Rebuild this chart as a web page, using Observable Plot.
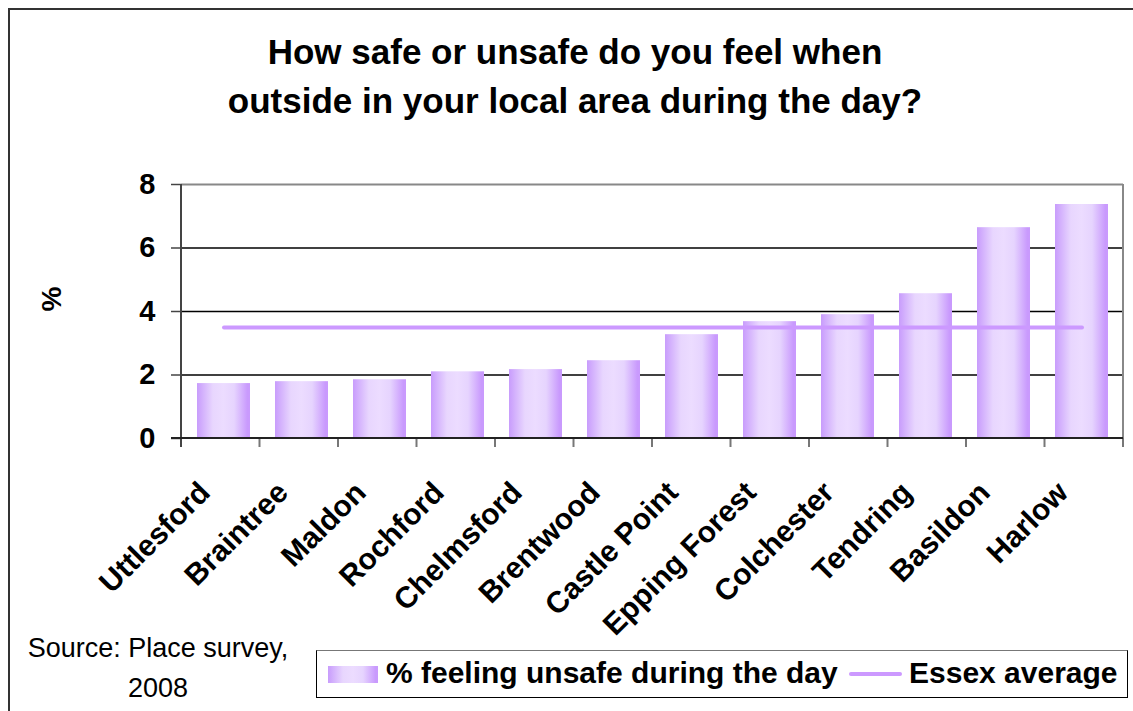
<!DOCTYPE html>
<html><head><meta charset="utf-8">
<script src="https://cdn.jsdelivr.net/npm/d3@7"></script>
<script src="https://cdn.jsdelivr.net/npm/@observablehq/plot@0.6"></script>
<style>
html,body{margin:0;padding:0;background:#fff;overflow:hidden;}
#wrap{position:relative;width:1133px;height:711px;overflow:hidden;font-family:"Liberation Sans",Arial,sans-serif;color:#000;}
#border{position:absolute;left:8px;top:8px;width:1300px;height:900px;border-left:2px solid #333;border-top:2px solid #333;}
#chart{position:absolute;left:0;top:0;}
#title{position:absolute;left:0;top:27px;width:1150px;text-align:center;font-weight:bold;font-size:35px;line-height:49px;}
#source{position:absolute;left:0;top:628px;width:316px;text-align:center;font-size:27px;line-height:40px;}
#legend{position:absolute;left:316px;top:650px;width:812px;height:48px;box-sizing:border-box;border:1.5px solid #000;border-top-color:#777;background:#fff;}
#legend .sw{position:absolute;left:11px;top:15px;width:50px;height:17px;background:linear-gradient(to right,#c89cfc 0%,#e8d6fe 30%,#ecdcff 50%,#e6d4fe 70%,#c99afd 95%);}
#legend .ln{position:absolute;left:532px;top:21px;width:53px;height:4px;border-radius:2px;background:#cc99ff;}
#legend .t{position:absolute;top:7px;font-weight:bold;font-size:30px;line-height:30px;white-space:nowrap;}
</style></head>
<body><div id="wrap">
<div id="border"></div>
<div id="chart"></div>
<div id="title">How safe or unsafe do you feel when<br>outside in your local area during the day?</div>
<div id="source">Source: Place survey,<br>2008</div>
<div id="legend"><div class="sw"></div><div class="t" style="left:69px">% feeling unsafe during the day</div><div class="ln"></div><div class="t" style="left:592px">Essex average</div></div>
</div>
<script>
const categories = ["Uttlesford","Braintree","Maldon","Rochford","Chelmsford","Brentwood","Castle Point","Epping Forest","Colchester","Tendring","Basildon","Harlow"];
const unsafePct = [1.73,1.79,1.85,2.1,2.17,2.45,3.27,3.68,3.9,4.56,6.64,7.37];
const essexAverage = 3.5;
const yTicks = [0,2,4,6,8];
const gridValues = [2,4,6];

const rows = categories.map((c,i)=>({area:c, pct:unsafePct[i]}));

const defs = () => {
  const g = d3.create("svg:defs");
  const lg = g.append("linearGradient").attr("id","barGrad").attr("x1","0").attr("x2","1").attr("y1","0").attr("y2","0");
  [[0,"#c89cfc"],[0.3,"#e8d6fe"],[0.5,"#ecdcff"],[0.7,"#e6d4fe"],[0.95,"#c99afd"],[1,"#c99afd"]]
    .forEach(([o,c])=>lg.append("stop").attr("offset",o).attr("stop-color",c));
  return g.node();
};

const plot = Plot.plot({
  width:1133, height:711,
  marginTop:184, marginBottom:273, marginLeft:181, marginRight:10,
  style:{fontFamily:"'Liberation Sans', Arial, sans-serif", fontWeight:"bold", fontSize:"28px", background:"transparent", color:"#000"},
  x:{type:"band", domain:categories, paddingInner:0.325, paddingOuter:0.15, axis:null},
  y:{domain:[0,8], axis:null},
  marks:[
    defs,
    Plot.ruleY(gridValues, {stroke:"#000", strokeWidth:1.5}),
    Plot.ruleY([8], {stroke:"#888", strokeWidth:2}),
    Plot.barY(rows, {x:"area", y:"pct", fill:"url(#barGrad)"}),
    Plot.lineY(categories, {x:d=>d, y:()=>essexAverage, stroke:"#cc99ff", strokeWidth:4, strokeLinecap:"round"}),
    Plot.axisY({ticks:yTicks, tickSize:10, tickPadding:16, label:null, fontSize:29, fontWeight:"bold", stroke:"#444", strokeWidth:1.5}),
    Plot.text(["%"], {text:d=>d, frameAnchor:"left", dx:-129, rotate:-90, fontSize:28, fontWeight:"bold"}),
    Plot.text(categories, {x:d=>d, text:d=>d, frameAnchor:"bottom", rotate:-45, textAnchor:"end", lineAnchor:"middle", dx:-19, dy:49, fontSize:30, fontWeight:"bold"})
  ]
});
document.getElementById("chart").appendChild(plot);

// frame lines from the library's scales
const xs = plot.scale("x"), ys = plot.scale("y");
const [r0, r1] = xs.range;
const y0 = ys.apply(0), y8 = ys.apply(8);
const svg = d3.select(plot);
const n = categories.length;
const gF = svg.append("g");
gF.append("line").attr("x1",r1).attr("x2",r1).attr("y1",y8).attr("y2",y0+9).attr("stroke","#888").attr("stroke-width",2);
d3.range(n+1).forEach(i=>{
  const xx = r0 + i*(r1-r0)/n;
  gF.append("line").attr("x1",xx).attr("x2",xx).attr("y1",y0).attr("y2",y0+9).attr("stroke","#777").attr("stroke-width",2);
});
gF.append("line").attr("x1",r0).attr("x2",r0).attr("y1",y8).attr("y2",y0+9).attr("stroke","#444").attr("stroke-width",2);
gF.append("line").attr("x1",r0-10).attr("x2",r1).attr("y1",y0).attr("y2",y0).attr("stroke","#222").attr("stroke-width",2);
</script>
</body></html>
